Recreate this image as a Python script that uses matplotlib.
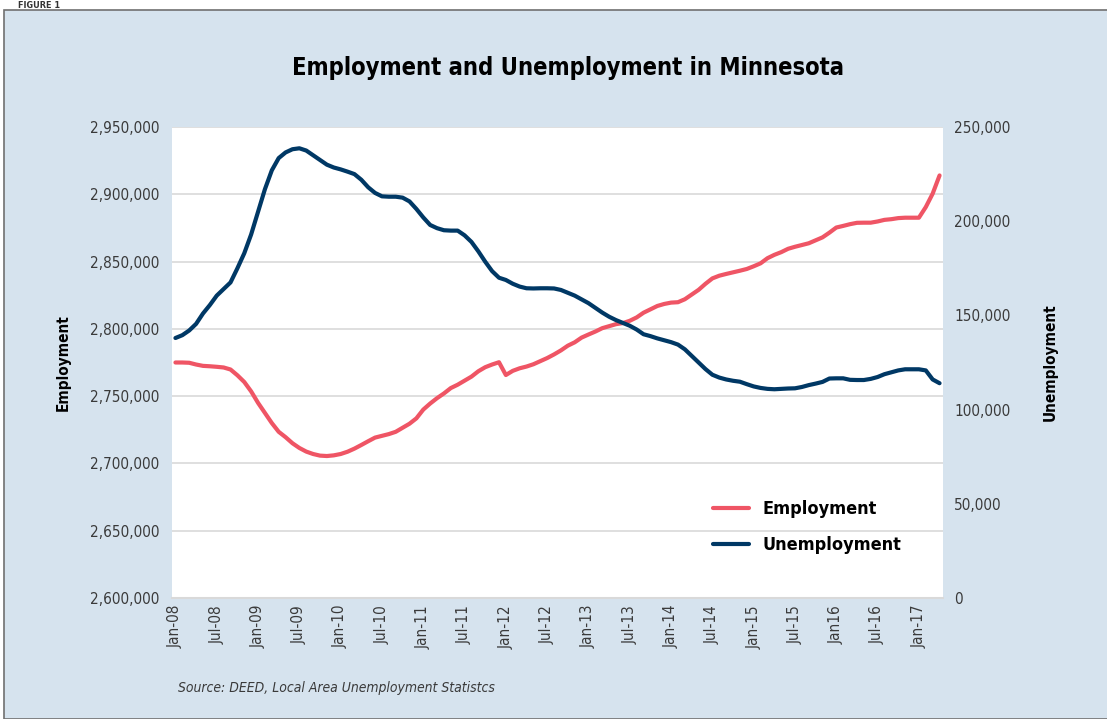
import matplotlib.pyplot as plt
from matplotlib.patches import Rectangle
from matplotlib.ticker import FuncFormatter, MultipleLocator

# monthly values, Jan-08 .. Apr-17
employment = [
    2775000, 2775000, 2774800, 2773500, 2772500, 2772200, 2771800, 2771300, 2769800, 2765500,
    2760500, 2753500, 2745000, 2737500, 2730000, 2723500, 2719500, 2715000, 2711500, 2708800,
    2707000, 2705800, 2705500, 2706000, 2707000, 2708700, 2711000, 2713700, 2716500, 2719200,
    2720500, 2721800, 2723500, 2726500, 2729500, 2733500, 2740000, 2744500, 2748500, 2752000,
    2756000, 2758500, 2761500, 2764500, 2768500, 2771500, 2773500, 2775200, 2765700, 2768800,
    2770700, 2772000, 2773700, 2776000, 2778300, 2781000, 2784000, 2787500, 2790000, 2793500,
    2795800, 2798000, 2800500, 2802000, 2803500, 2804300, 2806000, 2808500, 2812000, 2814500,
    2817000, 2818500, 2819500, 2819800, 2822000, 2825500, 2829000, 2833500, 2837500, 2839500,
    2840800, 2842000, 2843200, 2844500, 2846500, 2848700, 2852500, 2855000, 2857000, 2859500,
    2861000, 2862300, 2863600, 2865800, 2868000, 2871500, 2875300, 2876500, 2877800, 2878800,
    2878900, 2878900, 2879800, 2881000, 2881500, 2882300, 2882600, 2882600, 2882600, 2890500,
    2900500, 2914000,
]
unemployment = [
    138000, 139500, 142000, 145500, 151000, 155500, 160500, 164000, 167500, 175000,
    183000, 193000, 205000, 217000, 227000, 233500, 236500, 238200, 238700, 237500,
    235000, 232500, 230000, 228500, 227500, 226300, 225000, 222000, 218000, 215000,
    213200, 213000, 213000, 212500, 210500, 206500, 202000, 198000, 196300, 195200,
    195000, 195000, 192500, 189000, 184000, 178500, 173500, 170000, 168800, 166800,
    165300, 164400, 164300, 164400, 164400, 164300, 163500, 162000, 160500, 158500,
    156500, 154000, 151500, 149300, 147500, 146000, 144500, 142500, 140000, 139000,
    137800, 136800, 135800, 134500, 132000, 128500, 125000, 121500, 118500, 117000,
    116000, 115300, 114800, 113500, 112300, 111500, 111000, 110800, 111000, 111200,
    111300, 112000, 113000, 113800, 114700, 116500, 116600, 116600, 115800, 115700,
    115700, 116300, 117300, 118800, 119800, 120800, 121400, 121400, 121400, 120800,
    116000, 114000,
]
tick_labels = ['Jan-08', 'Jul-08', 'Jan-09', 'Jul-09', 'Jan-10', 'Jul-10', 'Jan-11', 'Jul-11',
               'Jan-12', 'Jul-12', 'Jan-13', 'Jul-13', 'Jan-14', 'Jul-14', 'Jan-15', 'Jul-15',
               'Jan16', 'Jul-16', 'Jan-17']

plt.rcParams['font.family'] = ['DejaVu Sans']
plt.rcParams['font.stretch'] = 'condensed'

RED = '#ef5565'
NAVY = '#003865'
PANEL = '#d6e3ee'
TXT = '#3a3a3a'

fig = plt.figure(figsize=(11.07, 7.19), dpi=100)
fig.patch.set_facecolor('white')
W, H = 1107, 719
fig.patches.append(Rectangle((4 / W, 0), 1.2, (H - 10) / H, transform=fig.transFigure,
                             facecolor=PANEL, edgecolor='#707070', linewidth=1.2, zorder=-5))
fig.text(18 / W, 1 - 5 / H, 'FIGURE 1', fontsize=6.5, fontweight='bold', color='#333333',
         va='center', ha='left')

ax = fig.add_axes([172 / W, 1 - 598 / H, 771 / W, 471 / H])
ax2 = ax.twinx()
x = list(range(len(employment)))

l1, = ax.plot(x, employment, color=RED, lw=3, solid_capstyle='round', label='Employment')
l2, = ax2.plot(x, unemployment, color=NAVY, lw=3, solid_capstyle='round', label='Unemployment')

ax.set_facecolor('white')
ax.set_xlim(-0.5, len(employment) - 0.5)
ax.set_ylim(2600000, 2950000)
ax2.set_ylim(0, 250000)
ax.yaxis.set_major_locator(MultipleLocator(50000))
ax2.yaxis.set_major_locator(MultipleLocator(50000))
fmt = FuncFormatter(lambda v, p: f'{int(v):,}')
ax.yaxis.set_major_formatter(fmt)
ax2.yaxis.set_major_formatter(fmt)
ax.grid(axis='y', color='#d9d9d9', lw=1.2)
ax.set_axisbelow(True)

ax.set_xticks(x[::6])
ax.set_xticklabels(tick_labels, rotation=90, fontsize=11, color=TXT)

for a in (ax, ax2):
    for s in a.spines.values():
        s.set_visible(False)
    a.tick_params(length=0, labelsize=11, labelcolor=TXT)
ax.spines['bottom'].set_visible(True)
ax.spines['bottom'].set_color('#d9d9d9')
ax.spines['bottom'].set_linewidth(1.5)
ax.tick_params(axis='y', pad=9)
ax2.tick_params(axis='y', pad=8)
ax.tick_params(axis='x', pad=5)

ax.set_ylabel('Employment', fontsize=11, fontweight='bold', color='black', labelpad=14)
ax2.set_ylabel('Unemployment', fontsize=11, fontweight='bold', color='black', labelpad=23)

fig.text(568 / W, 1 - 68 / H, 'Employment and Unemployment in Minnesota', fontsize=17,
         fontweight='bold', ha='center', va='center')
fig.text(178 / W, 1 - 688 / H, 'Source: DEED, Local Area Unemployment Statistcs',
         fontsize=10, style='italic', color=TXT, ha='left', va='center')

leg = ax2.legend([l1, l2], ['Employment', 'Unemployment'], loc='upper left',
                 bbox_to_anchor=(697 / W, 1 - 484 / H), bbox_transform=fig.transFigure,
                 frameon=False, handlelength=2.0, handletextpad=0.7,
                 prop={'weight': 'bold', 'size': 13}, labelspacing=1.0)

fig.savefig('out.png', dpi=100, facecolor=fig.get_facecolor())
